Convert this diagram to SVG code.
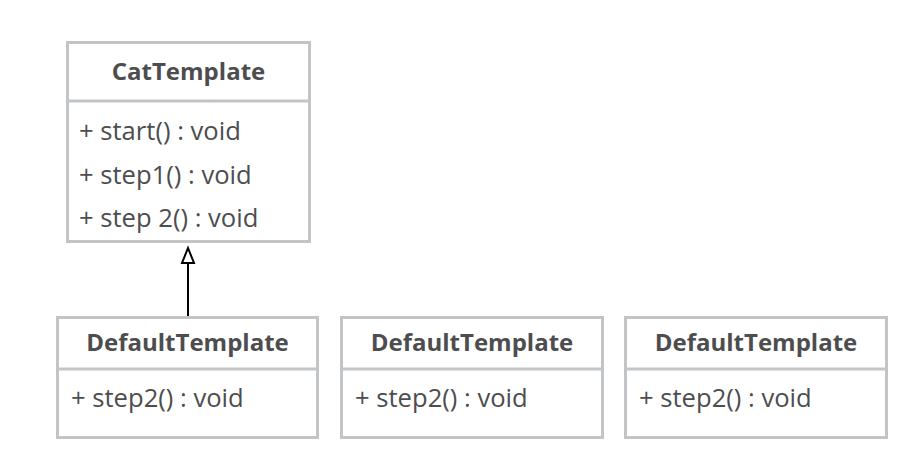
<svg xmlns="http://www.w3.org/2000/svg" width="922" height="462" viewBox="0 0 922 462">
<style>
.box{fill:#fff;stroke:#c2c5c7;stroke-width:3}
.div{stroke:#c2c5c7;stroke-width:3}
.t{font-family:"Open Sans","Noto Sans",sans-serif;font-weight:bold;font-size:24px;fill:#4d4d4f;text-anchor:middle}
.m{font-family:"Open Sans","Noto Sans",sans-serif;font-size:25.6px;fill:#4d4d4f}
.c{stroke:#000;stroke-width:2;fill:none}
</style>
<rect width="922" height="462" fill="#fff"/>
<g id="connectors">
<path class="c" d="M188 317 L188 263"/>
<path d="M188 248 L194 263 L182 263 Z" fill="#fff" stroke="#000" stroke-width="2"/>
</g>
<g id="CatTemplate">
<rect class="box" x="67.5" y="42.5" width="242" height="199"/>
<line class="div" x1="67.5" y1="101" x2="309.5" y2="101"/>
<text class="t" x="188.5" y="80">CatTemplate</text>
<text class="m" x="79" y="140">+ start() : void</text>
<text class="m" x="79" y="184">+ step1() : void</text>
<text class="m" x="79" y="227">+ step 2() : void</text>
</g>
<g id="DefaultTemplate1">
<rect class="box" x="57.5" y="317.5" width="260" height="120"/>
<line class="div" x1="57.5" y1="369" x2="317.5" y2="369"/>
<text class="t" x="187.5" y="351">DefaultTemplate</text>
<text class="m" x="71" y="407">+ step2() : void</text>
</g>
<g id="DefaultTemplate2">
<rect class="box" x="341.5" y="317.5" width="261" height="120"/>
<line class="div" x1="341.5" y1="369" x2="602.5" y2="369"/>
<text class="t" x="472" y="351">DefaultTemplate</text>
<text class="m" x="355" y="407">+ step2() : void</text>
</g>
<g id="DefaultTemplate3">
<rect class="box" x="625.5" y="317.5" width="261" height="120"/>
<line class="div" x1="625.5" y1="369" x2="886.5" y2="369"/>
<text class="t" x="756" y="351">DefaultTemplate</text>
<text class="m" x="639" y="407">+ step2() : void</text>
</g>
</svg>
